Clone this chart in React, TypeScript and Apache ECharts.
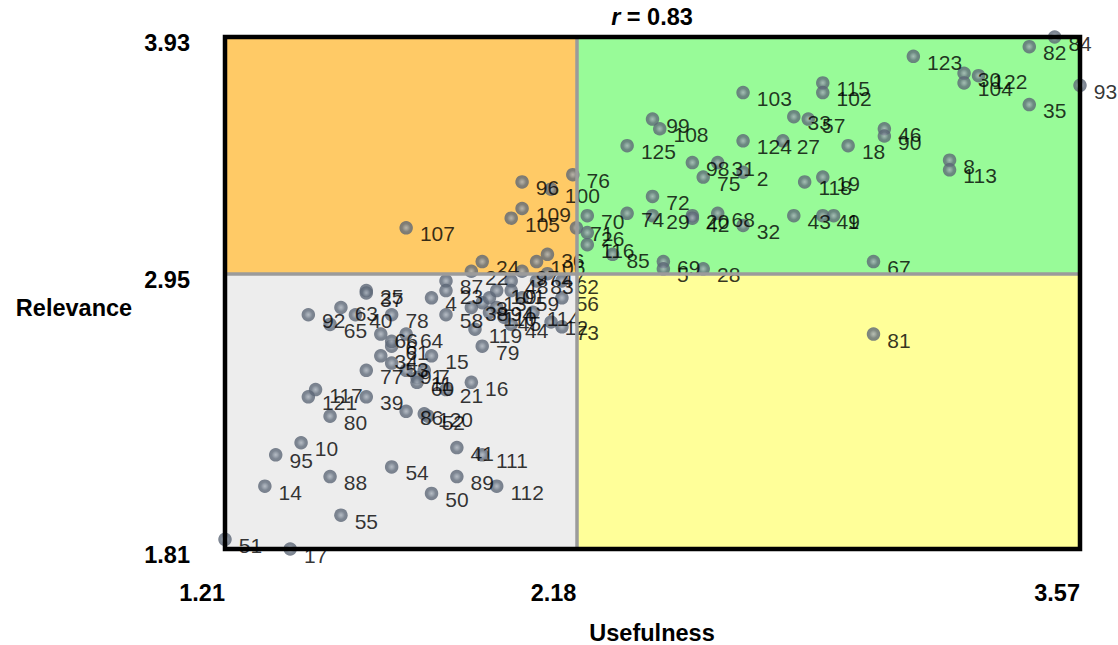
import React, { useEffect, useRef } from "react";
import * as echarts from "echarts";

const X_MIN = 1.21;
const X_SPLIT = 2.18;
const X_MAX = 3.57;
const Y_MIN = 1.81;
const Y_SPLIT = 2.95;
const Y_MAX = 3.93;

const xTicks = [1.21, 2.18, 3.57];
const yTicks = [1.81, 2.95, 3.93];

const pointLabels = [
  84, 82, 93, 123, 30, 122, 104, 35, 115, 102, 103, 33, 57, 99, 108, 46, 90, 125, 124, 27,
  18, 98, 31, 75, 2, 8, 113, 118, 19, 72, 76, 70, 74, 29, 20, 42, 68, 32, 43, 49,
  1, 71, 26, 116, 85, 69, 5, 28, 67, 81,
  107, 96, 100, 109, 105, 36, 106, 24,
  22, 97, 47, 62, 56, 87, 23, 4, 48, 9, 59, 3, 13, 38, 94, 110, 45, 114, 12, 73, 44, 119,
  79, 58, 101, 83,
  25, 37, 92, 63, 65, 40, 78, 66, 64, 61, 6, 34, 53, 91, 15, 77, 7, 11, 60, 21,
  16, 117, 121, 39, 86, 120, 52, 80, 10, 95, 14, 88, 55, 51, 17, 54, 41, 111, 89, 112, 50,
];

const usefulness = [
  3.50, 3.43, 3.57, 3.11, 3.25, 3.29, 3.25, 3.43, 2.86, 2.86, 2.64, 2.78, 2.82, 2.39, 2.41, 3.03, 3.03, 2.32, 2.64, 2.75,
  2.93, 2.50, 2.57, 2.53, 2.64, 3.21, 3.21, 2.81, 2.86, 2.39, 2.17, 2.21, 2.32, 2.39, 2.50, 2.50, 2.57, 2.64, 2.78, 2.86,
  2.89, 2.18, 2.21, 2.21, 2.28, 2.42, 2.42, 2.53, 3.00, 3.00,
  1.71, 2.03, 2.11, 2.03, 2.00, 2.10, 2.07, 1.92,
  1.89, 2.03, 2.10, 2.14, 2.14, 1.82, 1.82, 1.78, 2.00, 2.00, 2.03, 1.92, 1.94, 1.89, 1.96, 1.94, 1.98, 2.06, 2.11, 2.14, 2.00, 1.90,
  1.92, 1.82, 1.96, 2.07,
  1.60, 1.60, 1.44, 1.53, 1.50, 1.57, 1.67, 1.64, 1.71, 1.67, 1.67, 1.64, 1.67, 1.71, 1.78, 1.60, 1.76, 1.74, 1.74, 1.82,
  1.89, 1.46, 1.44, 1.60, 1.71, 1.76, 1.77, 1.50, 1.42, 1.35, 1.32, 1.50, 1.53, 1.21, 1.39, 1.67, 1.85, 1.92, 1.85, 1.96, 1.78,
];

const relevance = [
  3.93, 3.89, 3.73, 3.85, 3.78, 3.77, 3.74, 3.65, 3.74, 3.70, 3.70, 3.60, 3.59, 3.59, 3.55, 3.55, 3.52, 3.48, 3.50, 3.50,
  3.48, 3.41, 3.41, 3.35, 3.37, 3.42, 3.38, 3.33, 3.35, 3.27, 3.36, 3.19, 3.20, 3.19, 3.19, 3.18, 3.20, 3.15, 3.19, 3.19,
  3.19, 3.14, 3.12, 3.07, 3.03, 3.00, 2.97, 2.97, 3.00, 2.70,
  3.14, 3.33, 3.30, 3.22, 3.18, 3.03, 3.00, 3.00,
  2.96, 2.96, 2.95, 2.92, 2.85, 2.92, 2.88, 2.85, 2.92, 2.88, 2.85, 2.83, 2.85, 2.81, 2.81, 2.79, 2.77, 2.79, 2.75, 2.73, 2.74, 2.72,
  2.65, 2.78, 2.88, 2.92,
  2.88, 2.87, 2.78, 2.81, 2.74, 2.78, 2.78, 2.70, 2.70, 2.65, 2.67, 2.61, 2.58, 2.55, 2.61, 2.55, 2.55, 2.52, 2.50, 2.47,
  2.50, 2.47, 2.44, 2.44, 2.38, 2.37, 2.36, 2.36, 2.25, 2.20, 2.07, 2.11, 1.95, 1.85, 1.81, 2.15, 2.23, 2.20, 2.11, 2.07, 2.04,
];

const quadrantColors = {
  topLeft: "#FFCA66",
  topRight: "#98FB98",
  bottomLeft: "#EDEDED",
  bottomRight: "#FFFF99",
};

const FONT = "'Liberation Sans', Arial, Helvetica, sans-serif";
const BOLD_SIZE = 23.5;

export default function App() {
  const ref = useRef<HTMLDivElement>(null);

  useEffect(() => {
    if (!ref.current) return;
    const chart = echarts.init(ref.current, null, { renderer: "svg" });

    const points = pointLabels.map((lab, i) => [usefulness[i], relevance[i], lab]);

    const option: any = {
      animation: false,
      textStyle: { fontFamily: FONT },
      grid: { left: 225, right: 38, top: 37, bottom: 96, containLabel: false },
      xAxis: {
        type: "value",
        min: X_MIN,
        max: X_MAX,
        axisLine: { show: false },
        axisTick: { show: false },
        splitLine: { show: false },
        axisLabel: {
          customValues: xTicks,
          formatter: (v: number) => v.toFixed(2),
          align: "right",
          verticalAlign: "top",
          margin: 32,
          fontSize: BOLD_SIZE,
          fontWeight: "bold",
          color: "#000",
          fontFamily: FONT,
        },
      },
      yAxis: {
        type: "value",
        min: Y_MIN,
        max: Y_MAX,
        axisLine: { show: false },
        axisTick: { show: false },
        splitLine: { show: false },
        axisLabel: {
          customValues: yTicks,
          formatter: (v: number) => v.toFixed(2),
          margin: 35,
          fontSize: BOLD_SIZE,
          fontWeight: "bold",
          color: "#000",
          verticalAlign: "top",
          lineHeight: 12,
          fontFamily: FONT,
        },
      },
      series: [
        {
          type: "scatter",
          data: [],
          z: 1,
          silent: true,
          markArea: {
            silent: true,
            data: [
              [
                { xAxis: X_MIN, yAxis: Y_SPLIT, itemStyle: { color: quadrantColors.topLeft } },
                { xAxis: X_SPLIT, yAxis: Y_MAX },
              ],
              [
                { xAxis: X_SPLIT, yAxis: Y_SPLIT, itemStyle: { color: quadrantColors.topRight } },
                { xAxis: X_MAX, yAxis: Y_MAX },
              ],
              [
                { xAxis: X_MIN, yAxis: Y_MIN, itemStyle: { color: quadrantColors.bottomLeft } },
                { xAxis: X_SPLIT, yAxis: Y_SPLIT },
              ],
              [
                { xAxis: X_SPLIT, yAxis: Y_MIN, itemStyle: { color: quadrantColors.bottomRight } },
                { xAxis: X_MAX, yAxis: Y_SPLIT },
              ],
            ],
          },
          markLine: {
            silent: true,
            symbol: "none",
            label: { show: false },
            lineStyle: { color: "#9b9b9b", width: 3.5, type: "solid" },
            data: [{ xAxis: X_SPLIT }, { yAxis: Y_SPLIT }],
          },
        },
        {
          type: "scatter",
          z: 3,
          data: points,
          symbolSize: 13.5,
          clip: false,
          itemStyle: {
            color: {
              type: "radial",
              x: 0.5,
              y: 0.5,
              r: 0.5,
              colorStops: [
                { offset: 0, color: "#a7afb9" },
                { offset: 0.3, color: "#87919e" },
                { offset: 0.6, color: "#626d7c" },
                { offset: 1, color: "#5a6474" },
              ],
            },
          },
          label: {
            show: true,
            position: "right",
            distance: 7,
            verticalAlign: "top",
            lineHeight: 12,
            formatter: (p: any) => String(p.data[2]),
            fontSize: 21,
            color: "#000",
            fontFamily: FONT,
          },
          labelLayout: { hideOverlap: false },
        },
      ],
      graphic: [
        {
          type: "rect",
          z: 100,
          shape: { x: 225, y: 37, width: 855, height: 512 },
          style: { fill: "none", stroke: "#000", lineWidth: 4.5 },
          silent: true,
        },
        {
          type: "text",
          z: 100,
          x: 652,
          y: 17,
          style: {
            text: "{i|r} = 0.83",
            rich: {
              i: { fontStyle: "italic", fontWeight: "bold", fontSize: BOLD_SIZE, fontFamily: FONT, fill: "#000" },
            },
            fontWeight: "bold",
            fontSize: BOLD_SIZE,
            fontFamily: FONT,
            fill: "#000",
            align: "center",
            verticalAlign: "middle",
          },
        },
        {
          type: "text",
          z: 100,
          x: 652,
          y: 633,
          style: {
            text: "Usefulness",
            fontWeight: "bold",
            fontSize: BOLD_SIZE,
            fontFamily: FONT,
            fill: "#000",
            align: "center",
            verticalAlign: "middle",
          },
        },
        {
          type: "text",
          z: 100,
          x: 74,
          y: 308,
          style: {
            text: "Relevance",
            fontWeight: "bold",
            fontSize: BOLD_SIZE,
            fontFamily: FONT,
            fill: "#000",
            align: "center",
            verticalAlign: "middle",
          },
        },
      ],
    };

    chart.setOption(option);
    return () => chart.dispose();
  }, []);

  return (
    <div
      ref={ref}
      style={{ position: "fixed", left: 0, top: 0, width: 1118, height: 645, background: "#fff" }}
    />
  );
}
